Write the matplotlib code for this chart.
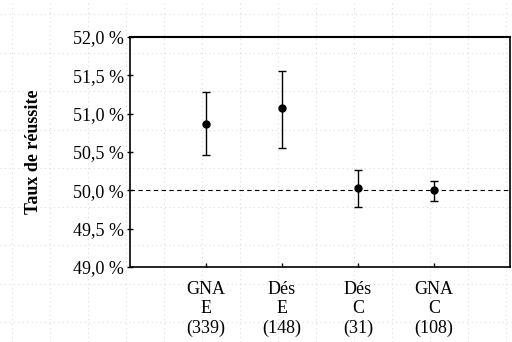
import matplotlib
matplotlib.use("Agg")
import matplotlib.pyplot as plt
import numpy as np

categories = ["GNA\nE\n(339)", "Dés\nE\n(148)", "Dés\nC\n(31)", "GNA\nC\n(108)"]
means = [50.87, 51.07, 50.03, 50.00]
upper = [51.28, 51.56, 50.26, 50.12]
lower = [50.46, 50.55, 49.78, 49.86]
yticks = [49.0, 49.5, 50.0, 50.5, 51.0, 51.5, 52.0]

plt.rcParams["font.family"] = ["Liberation Serif", "DejaVu Serif"]

fig = plt.figure(figsize=(5.12, 3.42), dpi=100)

# faint dotted paper grid from the scan
bg = fig.add_axes([0, 0, 1, 1], zorder=-1)
bg.set_xlim(0, 512)
bg.set_ylim(342, 0)
bg.set_xticks(np.arange(12, 512, 38))
bg.set_yticks(np.arange(14, 342, 38.5))
bg.grid(True, color="#dcdcdc", linestyle=(0, (1, 3)), linewidth=0.8)
bg.tick_params(length=0, labelbottom=False, labelleft=False)
for s in bg.spines.values():
    s.set_visible(False)
bg.patch.set_alpha(0)

ax = fig.add_axes([130 / 512, 1 - 267 / 342, 380 / 512, 230 / 342])
ax.patch.set_alpha(0)
x = np.arange(len(categories))
m = np.array(means)
err = [m - np.array(lower), np.array(upper) - m]
ax.errorbar(x, m, yerr=err, fmt="o", color="black", markersize=5,
            elinewidth=1.0, capsize=3, capthick=1.0)
ax.axhline(50.0, color="black", linestyle=(0, (4, 3)), linewidth=0.8)

ax.set_xlim(-1, 4)
ax.set_ylim(49.0, 52.0)
ax.set_yticks(yticks)
ax.set_yticklabels([f"{v:.1f} %".replace(".", ",") for v in yticks], fontsize=13)
ax.set_xticks(x)
ax.set_xticklabels(categories, fontsize=13, linespacing=1.2)
ax.tick_params(axis="y", direction="inout", length=5, width=1, pad=2)
ax.tick_params(axis="x", direction="in", length=3, width=1, pad=10)
for s in ax.spines.values():
    s.set_linewidth(1.2)
ax.spines["top"].set_linewidth(1.5)

ax.set_ylabel("Taux de réussite", fontsize=13, fontweight="bold", labelpad=22)

fig.savefig("out.png", dpi=100)
